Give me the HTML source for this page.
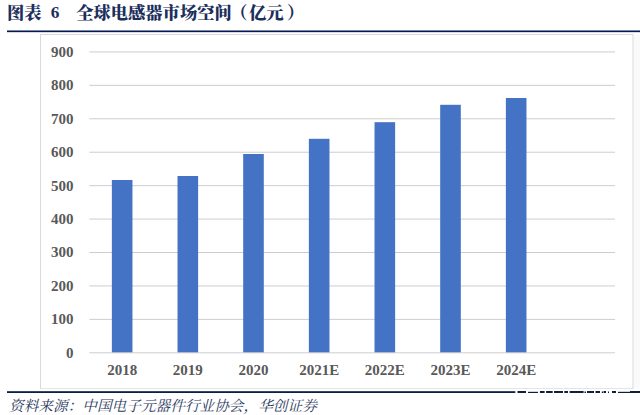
<!DOCTYPE html>
<html><head><meta charset="utf-8">
<style>
html,body{margin:0;padding:0;background:#fff;}
body{width:640px;height:415px;position:relative;overflow:hidden;}
.t{position:absolute;top:2.5px;height:22px;font-family:"Liberation Serif","Noto Serif CJK SC Black","Noto Serif CJK SC",serif;font-weight:900;color:#1c2f5c;font-size:17.3px;line-height:22px;white-space:nowrap;}
.t.n{font-size:17.3px;font-weight:bold;}
.src{position:absolute;left:9px;top:396px;font-family:"Liberation Serif","Noto Serif CJK SC",serif;font-style:italic;font-weight:400;color:#2a3a5e;font-size:14.67px;line-height:20px;white-space:nowrap;}
svg{position:absolute;left:0;top:0;}
</style></head><body>
<svg width="640" height="415" viewBox="0 0 640 415">
  <rect x="7" y="30" width="633" height="1" fill="#7585ab"/>
  <rect x="7" y="31" width="633" height="1" fill="#0b1b4b"/>
  <rect x="7" y="32" width="633" height="1" fill="#d5dbe6"/>
  <rect x="634" y="35" width="6" height="353" fill="#fafafa"/>
  <g fill="#d9d9d9">
    <rect x="40" y="34" width="593" height="1"/>
    <rect x="40" y="388" width="593" height="1" fill="#e4e4e4"/>
    <rect x="40" y="34" width="1" height="355"/>
    <rect x="632.5" y="34" width="1" height="355"/>
  </g>
  <g fill="#cdcdcd">
    <rect x="89.3" y="318.87" width="525.7" height="1"/>
    <rect x="89.3" y="285.44" width="525.7" height="1"/>
    <rect x="89.3" y="252.01" width="525.7" height="1"/>
    <rect x="89.3" y="218.58" width="525.7" height="1"/>
    <rect x="89.3" y="185.15" width="525.7" height="1"/>
    <rect x="89.3" y="151.72" width="525.7" height="1"/>
    <rect x="89.3" y="118.29" width="525.7" height="1"/>
    <rect x="89.3" y="84.86" width="525.7" height="1"/>
    <rect x="89.3" y="51.43" width="525.7" height="1"/>
  </g>
  <g fill="#4472c4">
    <rect x="111.85" y="180" width="20.6" height="172.80"/>
    <rect x="177.52" y="176" width="20.6" height="176.80"/>
    <rect x="243.19" y="154" width="20.6" height="198.80"/>
    <rect x="308.86" y="138.8" width="20.6" height="214.00"/>
    <rect x="374.53" y="122.2" width="20.6" height="230.60"/>
    <rect x="440.20" y="104.8" width="20.6" height="248.00"/>
    <rect x="505.87" y="98" width="20.6" height="254.80"/>
  </g>
  <rect x="89.3" y="352.30" width="525.7" height="1" fill="#cdcdcd"/>
  <g font-family="Liberation Serif, serif" font-weight="bold" font-size="15" fill="#595959" text-anchor="end">
    <text x="73.6" y="357.75">0</text>
    <text x="73.6" y="324.32">100</text>
    <text x="73.6" y="290.89">200</text>
    <text x="73.6" y="257.46">300</text>
    <text x="73.6" y="224.03">400</text>
    <text x="73.6" y="190.60">500</text>
    <text x="73.6" y="157.17">600</text>
    <text x="73.6" y="123.74">700</text>
    <text x="73.6" y="90.31">800</text>
    <text x="73.6" y="56.88">900</text>
  </g>
  <g font-family="Liberation Serif, serif" font-weight="bold" font-size="15" fill="#595959" text-anchor="middle">
    <text x="122.15" y="375">2018</text>
    <text x="187.82" y="375">2019</text>
    <text x="253.49" y="375">2020</text>
    <text x="319.16" y="375">2021E</text>
    <text x="384.83" y="375">2022E</text>
    <text x="450.50" y="375">2023E</text>
    <text x="516.17" y="375">2024E</text>
  </g>
  <g fill="#0e1f40">
    <rect x="7" y="391" width="508.3" height="1" fill="#34496e"/>
    <rect x="7" y="392" width="508.3" height="1"/>
    <rect x="517.5" y="391" width="8.5" height="2"/>
    <rect x="528" y="391.8" width="10" height="1.2"/>
    <rect x="539.9" y="391" width="4.7" height="2"/>
    <rect x="546.1" y="391" width="6.6" height="2"/>
    <rect x="554" y="391" width="9" height="2"/>
    <rect x="564.3" y="391" width="3.7" height="2"/>
    <rect x="569.6" y="391" width="14" height="2"/>
    <rect x="584.5" y="391.5" width="1.5" height="1.5"/>
    <rect x="587" y="391" width="7" height="2"/>
    <rect x="595.5" y="391" width="4.5" height="2"/>
    <rect x="601.8" y="391.5" width="1.2" height="1.5"/>
    <rect x="603.5" y="391" width="2.5" height="2"/>
    <rect x="608" y="391.5" width="1" height="1.5"/>
    <rect x="612" y="391" width="4" height="2"/>
    <rect x="618" y="391.8" width="12" height="1.2"/>
    <rect x="630" y="391" width="10" height="2"/>
  </g>
</svg>
<div class="t" style="left:7px">图表</div>
<div class="t n" style="left:50.8px;top:1.5px">6</div>
<div class="t" style="left:76.2px">全球电感器市场空间<span style="position:relative;left:-1.5px">（</span>亿元<span style="position:relative;left:3.5px">）</span></div>
<div class="src">资料来源：中国电子元器件行业协会，华创证券</div>
</body></html>
